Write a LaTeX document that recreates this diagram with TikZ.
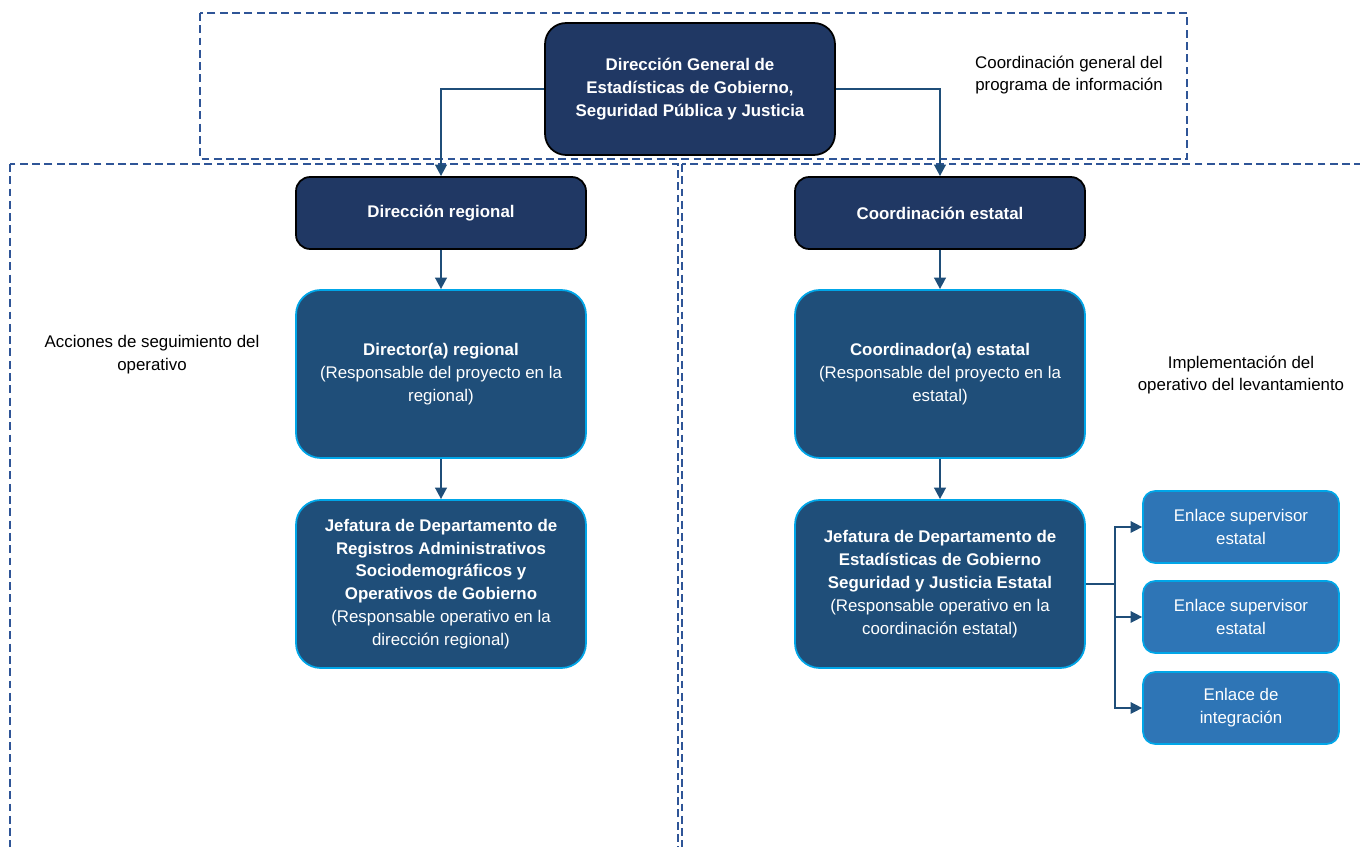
\documentclass[tikz,border=0pt]{standalone}
\usepackage{fontspec}
\setmainfont{Liberation Sans}
\usetikzlibrary{arrows.meta,positioning}

\definecolor{navy}{RGB}{32,56,100}
\definecolor{midblue}{RGB}{31,78,121}
\definecolor{lightblue}{RGB}{46,117,182}
\definecolor{edgeblue}{RGB}{0,166,232}
\definecolor{dashblue}{RGB}{47,85,151}

\tikzset{
  headbox/.style={draw=black, line width=1pt, fill=navy, text=white, align=center,
    font=\bfseries\fontsize{9.6}{13}\selectfont, minimum width=5.8cm},
  unitbox/.style={draw=edgeblue, line width=1pt, fill=midblue, text=white, align=center,
    font=\fontsize{9.6}{13}\selectfont, minimum width=5.8cm, minimum height=3.36cm,
    rounded corners=14pt},
  linkbox/.style={draw=edgeblue, line width=1pt, fill=lightblue, text=white, align=center,
    font=\fontsize{9.6}{13}\selectfont, minimum width=3.92cm, minimum height=1.44cm,
    rounded corners=7pt},
  zone/.style={draw=dashblue, line width=0.9pt, dash pattern=on 4.5pt off 2.5pt},
  note/.style={align=center, font=\fontsize{9.6}{13}\selectfont},
  link/.style={draw=midblue, line width=1.4pt, -{Triangle[length=6.5pt,width=6.5pt]}},
  sublink/.style={draw=midblue, line width=0.8pt, -{Triangle[length=6.5pt,width=6.5pt]}}
}

\begin{document}
\begin{tikzpicture}[x=0.02cm, y=-0.02cm]
  \useasboundingbox (0,0) rectangle (1360,847);

  % dashed areas
  \draw [zone] (200,13) rectangle (1187,159);
  \draw [zone] (10,164) rectangle (678,870);
  \draw [zone] (682,164) rectangle (1380,870);

  % boxes
  \node [headbox, minimum height=2.64cm, rounded corners=12pt] (dg) at (690,89)
    {Dirección General de\\Estadísticas de Gobierno,\\Seguridad Pública y Justicia};
  \node [headbox, minimum height=1.44cm, rounded corners=8pt] (dreg) at (441,213) {Dirección regional};
  \node [headbox, minimum height=1.44cm, rounded corners=8pt] (cest) at (940,213) {Coordinación estatal};

  \node [unitbox] (direc) at (441,374)
    {\textbf{Director(a) regional}\\(Responsable del proyecto en la\\regional)};
  \node [unitbox] (coord) at (940,374)
    {\textbf{Coordinador(a) estatal}\\(Responsable del proyecto en la\\estatal)};
  \node [unitbox] (jreg) at (441,584)
    {\textbf{Jefatura de Departamento de}\\\textbf{Registros Administrativos}\\\textbf{Sociodemográficos y}\\\textbf{Operativos de Gobierno}\\(Responsable operativo en la\\dirección regional)};
  \node [unitbox] (jest) at (940,584)
    {\textbf{Jefatura de Departamento de}\\\textbf{Estadísticas de Gobierno}\\\textbf{Seguridad y Justicia Estatal}\\(Responsable operativo en la\\coordinación estatal)};

  \node [linkbox] (enl1) at (1241,527) {Enlace supervisor\\estatal};
  \node [linkbox] (enl2) at (1241,617) {Enlace supervisor\\estatal};
  \node [linkbox] (enl3) at (1241,708) {Enlace de\\integración};

  % side notes
  \node [note] (ncg) at (1069,75) {Coordinación general del\\programa de información};
  \node [note] (nacc) at (152,355) {Acciones de seguimiento del\\operativo};
  \node [note] (nimp) at (1241,375) {Implementación del\\operativo del levantamiento};

  % connectors
  \draw [link] (dg.west) -| (dreg.north);
  \draw [link] (dg.east) -| (cest.north);
  \draw [link] (dreg) -- (direc);
  \draw [link] (direc) -- (jreg);
  \draw [link] (cest) -- (coord);
  \draw [link] (coord) -- (jest);
  \draw [draw=midblue, line width=0.8pt] (jest.east) -- ++(29,0) coordinate (bus);
  \foreach \e in {enl1,enl2,enl3}
    \draw [sublink] (bus) |- (\e.west);
\end{tikzpicture}
\end{document}
